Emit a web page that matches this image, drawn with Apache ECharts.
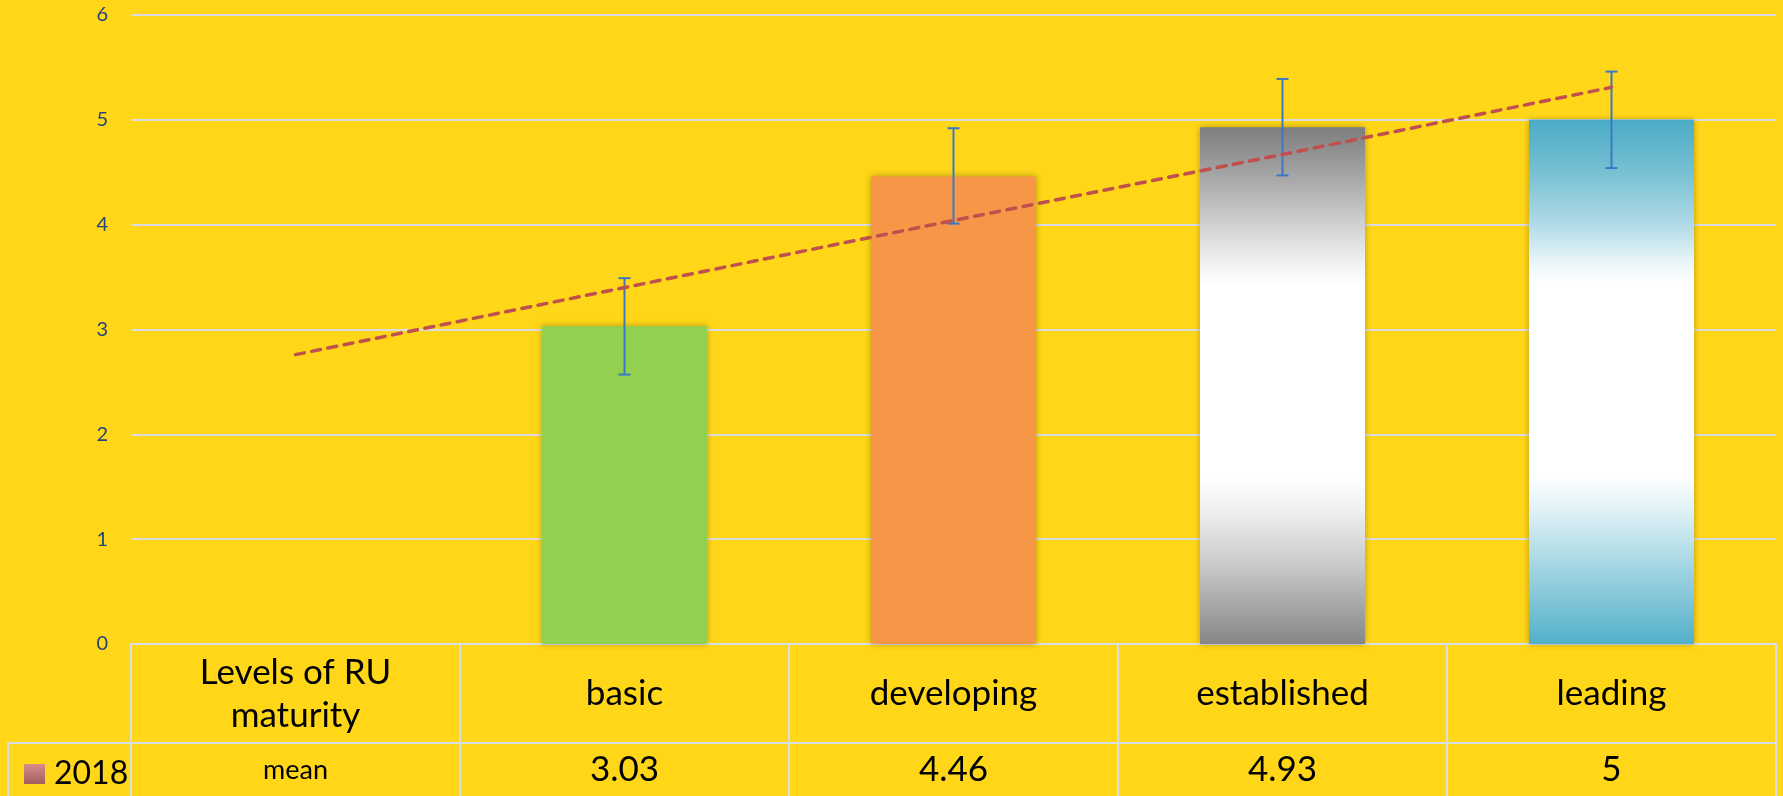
<!DOCTYPE html>
<html>
<head>
<meta charset="utf-8">
<script src="https://cdn.jsdelivr.net/npm/echarts@6/dist/echarts.min.js"></script>
<style>
html,body{margin:0;padding:0;background:#FFD618;}
#c{width:1783px;height:796px;}
</style>
</head>
<body>
<div id="c"></div>
<script>
// ---- data ----
const headerLabel = 'Levels of RU\nmaturity';
const rowLabel = 'mean';
const seriesName = '2018';
const categories = ['basic', 'developing', 'established', 'leading'];
const means = [3.03, 4.46, 4.93, 5];
const errUpper = [3.49, 4.92, 5.39, 5.46];
const errLower = [2.57, 4.01, 4.47, 4.54];
// linear trendline read over all five table columns
const trendValues = [2.76, 3.40, 4.04, 4.67, 5.31];
const yMin = 0, yMax = 6, yInterval = 1;

// ---- styles ----
const FONT = 'Lato';
const BORDER = '#D7DEE6';
const GRID = '#DCDCDC';

function vgrad(stops) {
  return {type: 'linear', x: 0, y: 0, x2: 0, y2: 1,
    colorStops: stops.map(s => ({offset: s[0], color: s[1]}))};
}
const barColors = [
  '#92D050',
  '#F79646',
  vgrad([[0, '#7D7D7D'], [0.1, '#A8A8A8'], [0.2, '#D6D6D6'], [0.27, '#F4F4F4'], [0.31, '#FFFFFF'], [0.68, '#FFFFFF'], [0.74, '#F0F0F0'], [0.85, '#C8C8C8'], [1, '#868686']]),
  vgrad([[0, '#4BACC6'], [0.1, '#78C0D3'], [0.2, '#B0DBE7'], [0.27, '#E8F5F9'], [0.31, '#FFFFFF'], [0.68, '#FFFFFF'], [0.74, '#E2F2F7'], [0.85, '#A5D6E3'], [1, '#53B0C9']])
];
const legendColor = vgrad([[0, '#DA8A8A'], [1, '#A25F5E']]);

const xCats = [headerLabel].concat(categories);
const rowCats = [{value: rowLabel, textStyle: {fontSize: 27, verticalAlign: 'middle'}}].concat(means.map(v => String(v)));

const barData = [{value: '-'}].concat(means.map((v, i) => ({
  value: v,
  itemStyle: {color: barColors[i]}
})));
const errData = categories.map((c, i) => [i + 1, errLower[i], errUpper[i]]);

const chart = echarts.init(document.getElementById('c'), null, {renderer: 'canvas'});
chart.setOption({
  backgroundColor: '#FFD618',
  animation: false,
  grid: {left: 131, right: 7, top: 15, bottom: 152, containLabel: false},
  legend: {
    data: [{name: seriesName, icon: 'rect', itemStyle: {color: legendColor}}],
    left: 19, top: 749,
    itemWidth: 21, itemHeight: 20,
    selectedMode: false,
    textStyle: {fontFamily: FONT, fontSize: 32, color: '#000', lineHeight: 40, padding: [0, 0, 0, 4]}
  },
  xAxis: [{
    type: 'category',
    data: xCats,
    position: 'bottom',
    axisLine: {show: true, lineStyle: {color: BORDER, width: 2}},
    axisTick: {show: true, length: 99, lineStyle: {color: BORDER, width: 2}},
    axisLabel: {margin: 50, verticalAlign: 'middle', fontFamily: FONT, fontSize: 35, lineHeight: 43, color: '#000', interval: 0},
    splitLine: {show: false}
  }, {
    type: 'category',
    data: rowCats,
    position: 'bottom',
    offset: 99,
    axisLine: {show: true, lineStyle: {color: BORDER, width: 2}},
    axisTick: {show: true, length: 60, lineStyle: {color: BORDER, width: 2}},
    axisLabel: {margin: 27, verticalAlign: 'middle', fontFamily: FONT, fontSize: 35, color: '#000', interval: 0},
    splitLine: {show: false}
  }],
  yAxis: {
    type: 'value',
    min: yMin, max: yMax, interval: yInterval,
    axisLine: {show: false},
    axisTick: {show: false},
    axisLabel: {margin: 23, fontFamily: FONT, fontSize: 20, color: '#264478'},
    splitLine: {lineStyle: {color: GRID, width: 2}}
  },
  graphic: [
    {type: 'line', shape: {x1: 7, y1: 743, x2: 131, y2: 743}, style: {stroke: BORDER, lineWidth: 2}, silent: true},
    {type: 'line', shape: {x1: 8, y1: 743, x2: 8, y2: 800}, style: {stroke: BORDER, lineWidth: 2}, silent: true}
  ],
  series: [{
    name: seriesName,
    type: 'bar',
    xAxisIndex: 0,
    data: barData,
    barWidth: 165,
    itemStyle: {color: legendColor, shadowBlur: 6, shadowColor: 'rgba(0,0,0,0.3)'},
    z: 2
  }, {
    name: 'error',
    type: 'custom',
    xAxisIndex: 0,
    data: errData,
    encode: {x: 0, y: [1, 2]},
    z: 4,
    renderItem: function (params, api) {
      const x = api.value(0);
      const top = api.coord([x, api.value(2)]);
      const bot = api.coord([x, api.value(1)]);
      const w = 6;
      const st = {stroke: '#3A78C6', lineWidth: 2};
      return {type: 'group', children: [
        {type: 'line', shape: {x1: top[0], y1: top[1], x2: bot[0], y2: bot[1]}, style: st},
        {type: 'line', shape: {x1: top[0] - w, y1: top[1], x2: top[0] + w, y2: top[1]}, style: st},
        {type: 'line', shape: {x1: bot[0] - w, y1: bot[1], x2: bot[0] + w, y2: bot[1]}, style: st}
      ]};
    }
  }, {
    name: 'trend',
    type: 'line',
    xAxisIndex: 0,
    data: trendValues,
    symbol: 'none',
    z: 5,
    lineStyle: {color: '#C0504D', width: 3.5, type: [9, 7.5], cap: 'round'}
  }]
});
</script>
</body>
</html>
